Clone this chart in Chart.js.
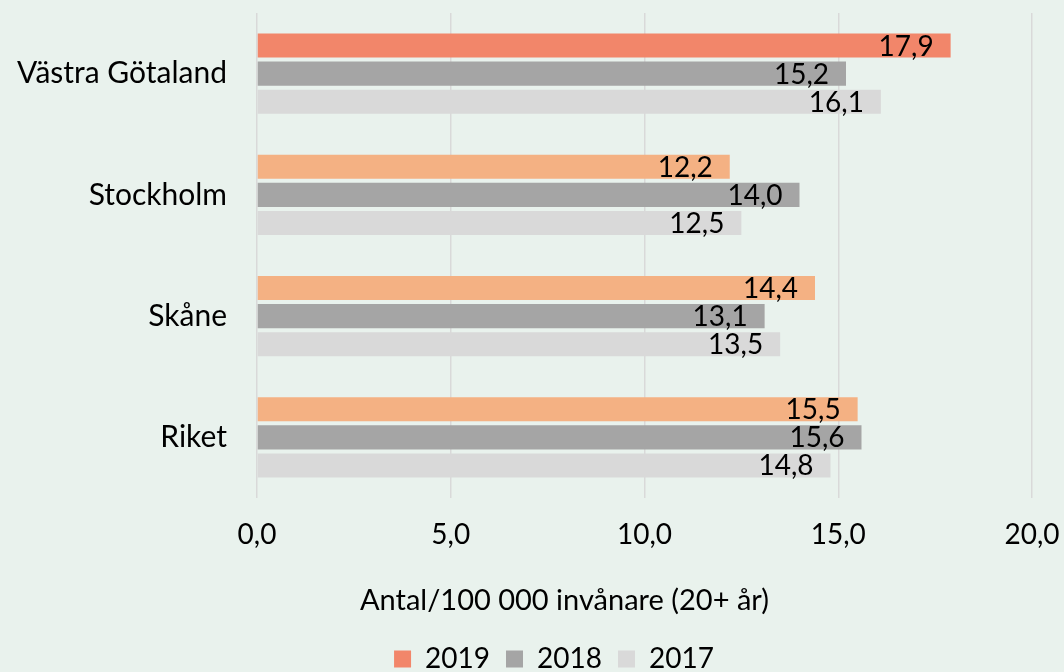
<!DOCTYPE html>
<html>
<head>
<meta charset="utf-8">
<script src="https://cdn.jsdelivr.net/npm/chart.js@4"></script>
<style>
  html, body { margin: 0; padding: 0; background: #E9F2ED; }
  #wrap { width: 1064px; height: 672px; position: relative; }
</style>
</head>
<body>
<div id="wrap"><canvas id="c"></canvas></div>
<script>
const categories = ['Västra Götaland', 'Stockholm', 'Skåne', 'Riket'];
const seriesNames = ['2019', '2018', '2017'];
const values2019 = [17.9, 12.2, 14.4, 15.5];
const values2018 = [15.2, 14.0, 13.1, 15.6];
const values2017 = [16.1, 12.5, 13.5, 14.8];
const xTickLabels = ['0,0', '5,0', '10,0', '15,0', '20,0'];
const axisTitle = 'Antal/100 000 invånare (20+ år)';

const FONT = 'Lato, "Open Sans", sans-serif';
const c2019 = ['#F2866A', '#F4B183', '#F4B183', '#F4B183'];
const c2018 = '#A5A5A5';
const c2017 = '#D9D9D9';

const barLabels = {
  id: 'barLabels',
  afterDatasetsDraw(chart) {
    const ctx = chart.ctx;
    ctx.save();
    ctx.font = '28px ' + FONT;
    ctx.fillStyle = '#000';
    ctx.textAlign = 'right';
    ctx.textBaseline = 'middle';
    chart.data.datasets.forEach((ds, di) => {
      const meta = chart.getDatasetMeta(di);
      meta.data.forEach((el, i) => {
        const txt = ds.data[i].toFixed(1).replace('.', ',');
        ctx.fillText(txt, el.x - 17, el.y + 1);
      });
    });
    ctx.restore();
  }
};

const xTitle = {
  id: 'xTitle',
  afterDraw(chart) {
    const ctx = chart.ctx;
    const a = chart.chartArea;
    ctx.save();
    ctx.font = '29px ' + FONT;
    ctx.fillStyle = '#000';
    ctx.textAlign = 'center';
    ctx.textBaseline = 'middle';
    ctx.fillText(axisTitle, (a.left + a.right) / 2 - 80, a.bottom + 103);
    ctx.restore();
  }
};

new Chart(document.getElementById('c'), {
  type: 'bar',
  data: {
    labels: categories,
    datasets: [
      { label: seriesNames[0], data: values2019, backgroundColor: c2019 },
      { label: seriesNames[1], data: values2018, backgroundColor: c2018 },
      { label: seriesNames[2], data: values2017, backgroundColor: c2017 }
    ]
  },
  options: {
    indexAxis: 'y',
    responsive: true,
    maintainAspectRatio: false,
    animation: false,
    devicePixelRatio: 1,
    layout: { padding: { left: 10, right: -34, top: 13, bottom: -11 } },
    datasets: { bar: { categoryPercentage: 0.694, barPercentage: 0.857 } },
    scales: {
      x: {
        min: 0, max: 20,
        ticks: {
          stepSize: 5,
          color: '#000',
          font: { family: FONT, size: 28 },
          padding: 20,
          maxRotation: 0,
          callback: (v, i) => xTickLabels[i]
        },
        grid: { color: '#D9D9D9', lineWidth: 1.5, drawTicks: false },
        border: { display: false },
        afterFit(scale) { scale.height = 131; scale.paddingLeft = 0; scale.paddingRight = 32; }
      },
      y: {
        ticks: {
          color: '#000',
          font: { family: FONT, size: 30 },
          padding: 30
        },
        grid: { display: false, drawTicks: false },
        border: { display: false },
        afterFit(scale) { scale.width = 247; scale.paddingTop = 0; scale.paddingBottom = 0; }
      }
    },
    plugins: {
      legend: {
        position: 'bottom',
        labels: {
          color: '#000',
          font: { family: FONT, size: 28 },
          boxWidth: 17,
          boxHeight: 17,
          padding: 16,
          generateLabels(chart) {
            return chart.data.datasets.map((ds, i) => ({
              text: ds.label,
              fillStyle: Array.isArray(ds.backgroundColor) ? ds.backgroundColor[0] : ds.backgroundColor,
              strokeStyle: 'rgba(0,0,0,0)',
              lineWidth: 0,
              hidden: false,
              datasetIndex: i
            }));
          }
        }
      },
      tooltip: { enabled: false }
    }
  },
  plugins: [barLabels, xTitle]
});
</script>
</body>
</html>
